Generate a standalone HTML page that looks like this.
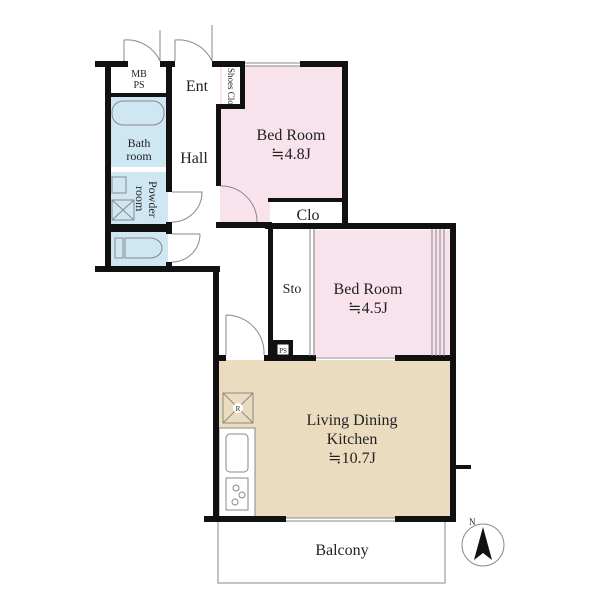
<!DOCTYPE html>
<html><head><style>body{margin:0;background:#fff}svg{display:block}</style></head><body>
<svg width="600" height="600" viewBox="0 0 600 600" xmlns="http://www.w3.org/2000/svg" style="font-family:'Liberation Serif','Times New Roman','DejaVu Serif',serif">
<rect x="110" y="97" width="58" height="70" fill="#cfe6f3"/>
<rect x="110" y="172" width="58" height="52" fill="#cfe6f3"/>
<rect x="110" y="232" width="58" height="36" fill="#cfe6f3"/>
<rect x="220" y="66" width="124" height="160" fill="#f8e2ec"/>
<rect x="222" y="66" width="18" height="40" fill="#fff"/>
<rect x="270" y="200" width="74" height="26" fill="#fff"/>
<rect x="313" y="230" width="138" height="127" fill="#f8e2ec"/>
<rect x="219" y="360" width="232" height="158" fill="#ecdcbf"/>
<rect x="219" y="428" width="36" height="90" fill="#fff" stroke="#888" stroke-width="1"/>
<g fill="#111">
<rect x="95" y="61" width="33" height="6"/><rect x="160" y="61" width="15" height="6"/><rect x="212" y="61" width="33" height="6"/><rect x="300" y="61" width="48" height="6"/>
<rect x="105" y="61" width="6" height="211"/>
<rect x="166" y="61" width="6" height="131"/>
<rect x="166" y="222" width="6" height="12"/>
<rect x="166" y="262" width="6" height="8"/>
<rect x="108" y="93" width="62" height="4"/>
<rect x="108" y="224" width="62" height="8"/>
<rect x="95" y="266" width="125" height="6"/>
<rect x="213" y="266" width="6" height="256"/>
<rect x="240" y="66" width="5" height="42"/>
<rect x="216" y="104" width="29" height="5"/>
<rect x="216" y="104" width="5" height="82"/>
<rect x="216" y="222" width="56" height="6"/>
<rect x="342" y="61" width="6" height="167"/>
<rect x="268" y="198" width="79" height="4"/>
<rect x="265" y="223" width="190" height="6"/>
<rect x="268" y="223" width="5" height="137"/>
<rect x="450" y="223" width="6" height="299"/>
<rect x="273" y="340" width="20" height="20"/>
<rect x="216" y="355" width="10" height="6"/><rect x="264" y="355" width="52" height="6"/><rect x="395" y="355" width="61" height="6"/>
<rect x="204" y="516" width="82" height="6"/><rect x="395" y="516" width="61" height="6"/>
<rect x="456" y="465" width="15" height="4"/>
</g>
<rect x="277" y="344" width="12" height="11" fill="#fff" stroke="#111" stroke-width="1"/>
<text x="283" y="353" font-size="7" text-anchor="middle" fill="#222">PS</text>
<g stroke="#888" fill="none" stroke-width="1">
<line x1="245" y1="63" x2="300" y2="63"/><line x1="245" y1="66" x2="300" y2="66"/>
<line x1="286" y1="518" x2="395" y2="518"/><line x1="286" y1="521" x2="395" y2="521"/>
<line x1="316" y1="358" x2="395" y2="358"/>
<line x1="310" y1="229" x2="310" y2="356"/><line x1="314" y1="229" x2="314" y2="356"/>
<line x1="432" y1="229" x2="432" y2="356"/><line x1="436" y1="229" x2="436" y2="356"/><line x1="440" y1="229" x2="440" y2="356"/><line x1="444" y1="229" x2="444" y2="356"/>
<polyline points="218,522 218,583 445,583 445,522"/>
<path d="M124,61 L124,40 A36,36 0 0 1 160,61"/><line x1="160" y1="30" x2="160" y2="61"/>
<path d="M175,61 L175,40 A37,37 0 0 1 212,61"/><line x1="212" y1="25" x2="212" y2="61"/>
<path d="M172,192 L202,192 A30,30 0 0 1 172,222"/>
<path d="M172,234 L200,234 A28,28 0 0 1 172,262"/>
<path d="M221,186 A36,36 0 0 1 257,222"/>
<path d="M226,315 L226,355 M226,315 A38,38 0 0 1 264,355"/>
<rect x="112" y="101" width="52" height="24" rx="11"/>
<rect x="112" y="177" width="14" height="16"/>
<rect x="112" y="200" width="22" height="20"/><line x1="112" y1="200" x2="134" y2="220"/><line x1="134" y1="200" x2="112" y2="220"/>
<path d="M125,238 h25 a12,10 0 0 1 0,20 h-25 z"/><rect x="115" y="238" width="8" height="20"/>
<rect x="223" y="393" width="30" height="30"/><line x1="223" y1="393" x2="253" y2="423"/><line x1="253" y1="393" x2="223" y2="423"/>
<rect x="226" y="434" width="22" height="38" rx="4"/>
<rect x="226" y="478" width="22" height="32"/>
<circle cx="236" cy="488" r="3"/><circle cx="242" cy="495" r="3"/><circle cx="235" cy="502" r="3"/>
<circle cx="483" cy="545" r="21"/>
</g>
<circle cx="238" cy="408" r="5" fill="#fff"/>
<g fill="#222">
<text x="238" y="411" font-size="7" text-anchor="middle">R</text>
<path d="M483,527 L492,560 L483,553 L474,560 Z" fill="#111"/>
<text x="469" y="525" font-size="9">N</text>
<text x="139" y="77" font-size="10" text-anchor="middle">MB</text>
<text x="139" y="88" font-size="10" text-anchor="middle">PS</text>
<text x="139" y="147" font-size="12" text-anchor="middle">Bath</text>
<text x="139" y="160" font-size="12" text-anchor="middle">room</text>
<text font-size="12" transform="translate(149,181) rotate(90)">Powder</text>
<text font-size="12" transform="translate(136,186) rotate(90)">room</text>
<text x="197" y="91" font-size="16" text-anchor="middle">Ent</text>
<text font-size="9" transform="translate(228,68) rotate(90)">Shoes Clo</text>
<text x="194" y="163" font-size="16" text-anchor="middle">Hall</text>
<text x="291" y="140" font-size="16" text-anchor="middle">Bed Room</text>
<text x="291" y="159" font-size="16" text-anchor="middle">≒4.8J</text>
<text x="308" y="220" font-size="16" text-anchor="middle">Clo</text>
<text x="292" y="293" font-size="14" text-anchor="middle">Sto</text>
<text x="368" y="294" font-size="16" text-anchor="middle">Bed Room</text>
<text x="368" y="313" font-size="16" text-anchor="middle">≒4.5J</text>
<text x="352" y="425" font-size="16" text-anchor="middle">Living Dining</text>
<text x="352" y="444" font-size="16" text-anchor="middle">Kitchen</text>
<text x="352" y="463" font-size="16" text-anchor="middle">≒10.7J</text>
<text x="342" y="555" font-size="16" text-anchor="middle">Balcony</text>
</g>
</svg>
</body></html>
